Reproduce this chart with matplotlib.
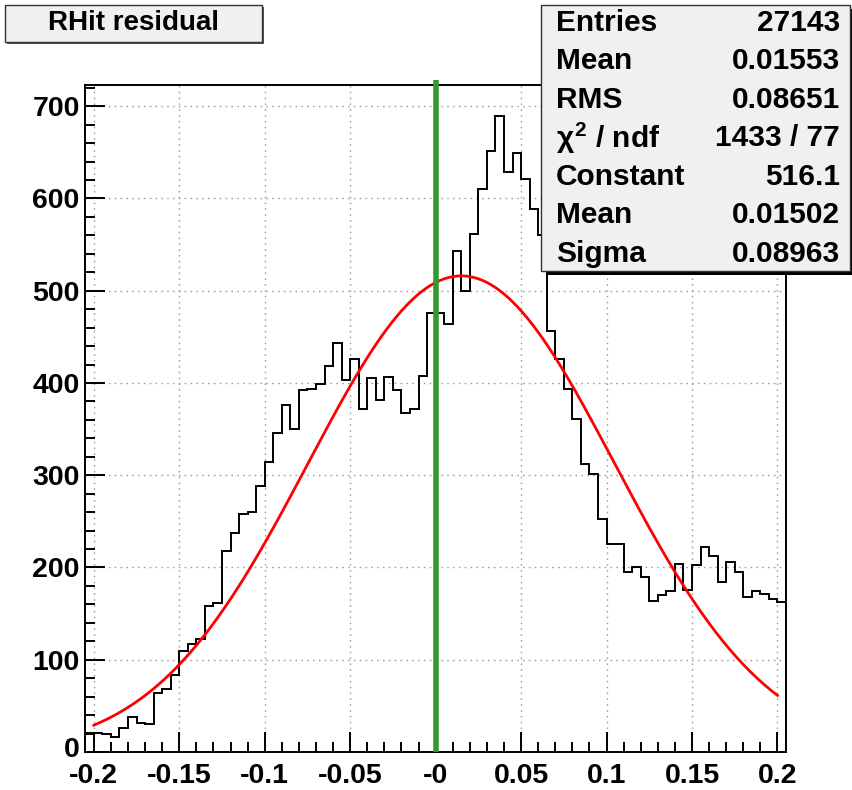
import numpy as np
import matplotlib
matplotlib.use("Agg")
import matplotlib.pyplot as plt
import matplotlib.transforms as mtransforms
from matplotlib.patches import Rectangle
from matplotlib.ticker import MultipleLocator, FixedLocator, FixedFormatter

# ---------------- data ----------------
bin_low = -0.205
bin_width = 0.005
counts = [
    21, 21, 19.5, 16, 26, 38, 31, 30, 64, 68,
    83, 109, 117, 122, 158, 161, 218, 237, 258, 260,
    288, 314, 346, 376, 350, 392, 393, 399, 418, 443,
    403, 426, 372, 405, 382, 406, 392, 367, 372, 408,
    476, 476, 464, 543, 500, 562, 610, 652, 689, 629,
    649, 621, 589, 560, 456, 426, 394, 361, 312, 301,
    253, 225, 225, 195, 201, 190, 164, 170, 175, 204,
    176, 203, 222, 212, 184, 206, 195, 168, 174, 171,
    166, 163,
]
fit_constant = 516.1
fit_mean = 0.01502
fit_sigma = 0.08963
fit_range = (-0.2, 0.2)
marker_x = 0.0

x_ticks = [-0.2, -0.15, -0.1, -0.05, 0.0, 0.05, 0.1, 0.15, 0.2]
x_tick_labels = ["-0.2", "-0.15", "-0.1", "-0.05", "-0", "0.05", "0.1", "0.15", "0.2"]
y_ticks = [0, 100, 200, 300, 400, 500, 600, 700]

title = "RHit residual"
stats_labels = ["Entries", "Mean", "RMS", r"$\chi^2$ / ndf", "Constant", "Mean", "Sigma"]
stats_values = ["27143", "0.01553", "0.08651", "1433 / 77", "516.1", "0.01502", "0.08963"]

# ---------------- figure ----------------
W, H = 853, 790
plt.rcParams['font.family'] = ['Liberation Sans', 'DejaVu Sans']
plt.rcParams['font.weight'] = 'bold'
plt.rcParams['mathtext.fontset'] = 'custom'
plt.rcParams['mathtext.rm'] = 'Liberation Sans:bold'
plt.rcParams['mathtext.it'] = 'Liberation Sans:bold'

fig = plt.figure(figsize=(W / 100, H / 100), dpi=100)
fig.patch.set_facecolor('white')

def fx(px):
    return px / W

def fy(py):
    return 1 - py / H

left, right, top, bottom = 85.3, 786, 85, 752
ax = fig.add_axes([fx(left), fy(bottom), fx(right - left), (bottom - top) / H])

n = len(counts)
edges = bin_low + bin_width * np.arange(n + 1)
ax.stairs(counts, edges, color='black', lw=1.4, baseline=0, zorder=3)

xf = np.linspace(fit_range[0], fit_range[1], 400)
yf = fit_constant * np.exp(-0.5 * ((xf - fit_mean) / fit_sigma) ** 2)
ax.plot(xf, yf, color='#ff0000', lw=2.0, zorder=4)

ax.plot([marker_x, marker_x], [0, 728], color='#339933', lw=4, zorder=5,
        clip_on=False, solid_capstyle='butt')

ax.set_xlim(edges[0], edges[-1])
ax.set_ylim(0, 723)

ax.xaxis.set_major_locator(FixedLocator(x_ticks))
ax.xaxis.set_major_formatter(FixedFormatter(x_tick_labels))
ax.xaxis.set_minor_locator(MultipleLocator(0.01))
ax.yaxis.set_major_locator(FixedLocator(y_ticks))
ax.yaxis.set_minor_locator(MultipleLocator(20))

ax.tick_params(axis='both', which='major', direction='in', length=14.5, width=1.4,
               labelsize=20.5, color='black')
ax.tick_params(axis='both', which='minor', direction='in', length=7.2, width=1.4,
               color='black')
ax.tick_params(axis='x', which='major', pad=8)
ax.tick_params(axis='y', which='major', pad=4)
for lab in ax.get_xticklabels() + ax.get_yticklabels():
    lab.set_fontweight('bold')

# nudge the "0" label on the y axis up a little, as in the reference
fig.canvas.draw()
ylabs = ax.get_yticklabels()
shift = mtransforms.ScaledTranslation(0, 5 / 100, fig.dpi_scale_trans)
ylabs[0].set_transform(ylabs[0].get_transform() + shift)

ax.grid(True, which='major', color='#a0a0a0', lw=1.0, linestyle=(0, (1.2, 3)), zorder=1)
for s in ax.spines.values():
    s.set_linewidth(1.4)
    s.set_color('black')

# ---------------- title box ----------------
tx0, ty0, tx1, ty1 = 5, 5, 262, 42
fig.patches.append(Rectangle((fx(tx0 + 2), fy(ty1 + 2)), fx(tx1 - tx0), (ty1 - ty0) / H,
                             transform=fig.transFigure, facecolor='#555555', edgecolor='none',
                             zorder=9))
fig.patches.append(Rectangle((fx(tx0), fy(ty1)), fx(tx1 - tx0), (ty1 - ty0) / H,
                             transform=fig.transFigure, facecolor='#f0f0f0', edgecolor='#333333',
                             lw=1.0, zorder=10))
fig.text(fx((tx0 + tx1) / 2), fy((ty0 + ty1) / 2), title, ha='center', va='center',
         fontsize=20, fontweight='bold', zorder=11)

# ---------------- stats box ----------------
sx0, sy0, sx1, sy1 = 541, 5, 850, 271
fig.patches.append(Rectangle((fx(sx0 + 5), fy(sy1 + 4)), fx(sx1 - sx0), (sy1 - sy0) / H,
                             transform=fig.transFigure, facecolor='black', edgecolor='none',
                             zorder=9))
fig.patches.append(Rectangle((fx(sx0), fy(sy1)), fx(sx1 - sx0), (sy1 - sy0) / H,
                             transform=fig.transFigure, facecolor='#f0f0f0', edgecolor='#333333',
                             lw=1.0, zorder=10))
row_y = [23, 61, 100, 138, 177, 215, 254]
for lab, val, yy in zip(stats_labels, stats_values, row_y):
    fig.text(fx(556), fy(yy), lab, ha='left', va='center', fontsize=21.5,
             fontweight='bold', zorder=11)
    fig.text(fx(840), fy(yy), val, ha='right', va='center', fontsize=21.5,
             fontweight='bold', zorder=11)

fig.savefig('out.png', dpi=100)
